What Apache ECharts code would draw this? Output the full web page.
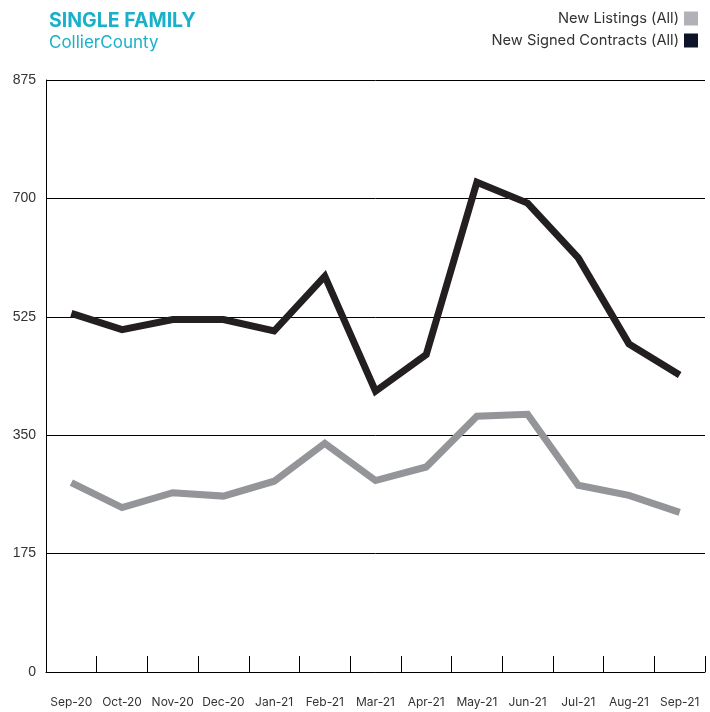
<!DOCTYPE html>
<html>
<head>
<meta charset="utf-8">
<script src="https://cdn.jsdelivr.net/npm/echarts@6/dist/echarts.min.js"></script>
<style>
html,body{margin:0;padding:0;background:#fff;}
#chart{width:710px;height:712px;}
</style>
</head>
<body>
<div id="chart"></div>
<script>
const categories = ['Sep-20','Oct-20','Nov-20','Dec-20','Jan-21','Feb-21','Mar-21','Apr-21','May-21','Jun-21','Jul-21','Aug-21','Sep-21'];
const newListings = [280, 243, 265, 260, 282, 338, 283, 303, 378, 381, 276, 261, 236];
const newSignedContracts = [530, 506, 521, 521, 504, 585, 415, 469, 724, 693, 612, 485, 439];
const yTicks = [0, 175, 350, 525, 700, 875];

const chart = echarts.init(document.getElementById('chart'));
chart.setOption({
  animation: false,
  backgroundColor: '#ffffff',
  title: {
    text: 'SINGLE FAMILY',
    subtext: 'CollierCounty',
    left: 44,
    top: 6,
    itemGap: 3,
    textStyle: {color: '#19b0c9', fontSize: 19.5, fontWeight: 'bold', fontFamily: 'Inter'},
    subtextStyle: {color: '#19b0c9', fontSize: 17, fontWeight: 'normal', fontFamily: 'Inter'}
  },
  legend: {
    orient: 'vertical',
    right: 7,
    top: 6,
    align: 'right',
    icon: 'rect',
    itemWidth: 14,
    itemHeight: 14,
    itemGap: 7,
    textStyle: {color: '#333', fontSize: 14.7, fontFamily: 'Inter'},
    data: [
      {name: 'New Listings (All)', itemStyle: {color: '#b1b2b8'}},
      {name: 'New Signed Contracts (All)', itemStyle: {color: '#0e1327'}}
    ]
  },
  grid: {left: 46, right: 5, top: 80, bottom: 40},
  xAxis: {
    type: 'category',
    data: categories,
    boundaryGap: true,
    axisLine: {show: true, lineStyle: {color: '#000', width: 1}},
    axisTick: {show: true, inside: true, length: 16, lineStyle: {color: '#000', width: 1}},
    axisLabel: {color: '#333', fontSize: 12, margin: 24, fontFamily: 'Inter', interval: 0},
    splitLine: {show: false}
  },
  yAxis: {
    type: 'value',
    min: yTicks[0],
    max: yTicks[yTicks.length - 1],
    interval: yTicks[1] - yTicks[0],
    axisLine: {show: true, lineStyle: {color: '#000', width: 1}},
    axisTick: {show: false},
    axisLabel: {color: '#333', fontSize: 14, margin: 10, fontFamily: 'Liberation Sans'},
    splitLine: {show: true, lineStyle: {color: '#000', width: 1}}
  },
  series: [
    {
      name: 'New Listings (All)',
      type: 'line',
      data: newListings,
      symbol: 'none',
      lineStyle: {color: '#939598', width: 7, join: 'miter', cap: 'butt'},
      itemStyle: {color: '#b1b2b8'}
    },
    {
      name: 'New Signed Contracts (All)',
      type: 'line',
      data: newSignedContracts,
      symbol: 'none',
      lineStyle: {color: '#231f20', width: 7, join: 'miter', cap: 'butt'},
      itemStyle: {color: '#0e1327'}
    }
  ]
});
</script>
</body>
</html>
